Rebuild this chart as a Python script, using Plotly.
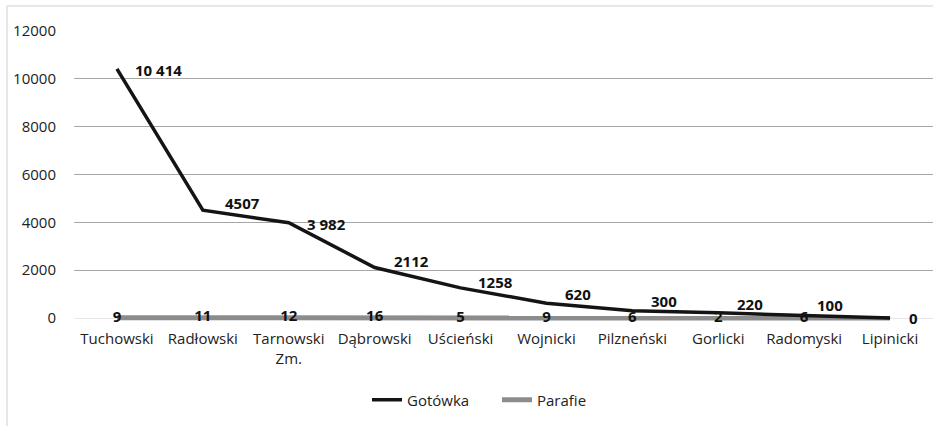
import plotly.graph_objects as go

categories = ["Tuchowski", "Radłowski", "Tarnowski<br>Zm.", "Dąbrowski", "Uścieński",
              "Wojnicki", "Pilzneński", "Gorlicki", "Radomyski", "Lipinicki"]
gotowka = [10414, 4507, 3982, 2112, 1258, 620, 300, 220, 100, 0]
gotowka_labels = ["10 414", "4507", "3 982", "2112", "1258", "620", "300", "220", "100", "0"]
parafie = [9, 11, 12, 16, 5, 9, 6, 2, 6, 0]
parafie_labels = ["9", "11", "12", "16", "5", "9", "6", "2", "6", ""]
y_ticks = [0, 2000, 4000, 6000, 8000, 10000, 12000]
y_tick_text = ["0", "2000", "4000", "6000", "8000", "10000", "12000"]

# label offsets (pixels) for the Gotówka value labels
lab_dx = [16, 20, 16, 17, 15, 17, 17, 17, 11, 17]
lab_dy = [-1, 7, -1, 6, 6, 9, 10, 9, 11, 0]

W, H = 939, 426
EXT = 5  # px of extra room below zero so thick lines at 0 are not clipped
L, R, T, B = 74, 6, 31, 108 - EXT
ymax = 12000
ppu = 287 / ymax
ymin = -EXT / ppu
FONT = "Open Sans"
FS = 15

fig = go.Figure()
fig.add_trace(go.Scatter(
    x=categories, y=parafie, name="Parafie", mode="lines+text",
    line=dict(color="#8c8c8c", width=5),
    text=parafie_labels, textposition="middle center",
    textfont=dict(family=FONT, size=FS, color="#111111", weight="bold"),
    cliponaxis=False,
))
fig.add_trace(go.Scatter(
    x=categories, y=gotowka, name="Gotówka", mode="lines",
    line=dict(color="#141414", width=3.5),
    cliponaxis=False,
))

annotations = []
for c, v, t, dx, dy in zip(categories, gotowka, gotowka_labels, lab_dx, lab_dy):
    annotations.append(dict(
        x=c, y=v, text=t, showarrow=False, xanchor="left", yanchor="middle",
        xshift=dx, yshift=dy,
        font=dict(family=FONT, size=FS, color="#111111", weight="bold"),
    ))

pw = W - L - R
ph = H - T - B
def px_x(x): return (x - L) / pw
def px_y(y): return 1 - (y - T) / ph

fig.update_layout(
    width=W, height=H,
    margin=dict(l=L, r=R, t=T, b=B, autoexpand=False),
    paper_bgcolor="white", plot_bgcolor="white",
    font=dict(family=FONT, size=FS, color="#222222"),
    showlegend=True,
    legend=dict(orientation="h", x=px_x(367), xanchor="left", y=px_y(400), yanchor="middle",
                traceorder="reversed", font=dict(size=FS), entrywidth=85),
    xaxis=dict(showgrid=False, showline=False, ticks="", tickfont=dict(size=FS),
               range=[-0.5, 9.5], ticklabelstandoff=10 - EXT, automargin=False),
    yaxis=dict(range=[ymin, ymax], tickvals=y_ticks, ticktext=y_tick_text, showgrid=True,
               gridcolor="#a6a6a6", gridwidth=1, zeroline=True, zerolinecolor="#e8e8e8",
               zerolinewidth=1, showline=False, ticks="", ticklabelstandoff=17,
               tickfont=dict(size=FS), automargin=False),
    annotations=annotations,
    shapes=[
        dict(type="line", xref="paper", yref="paper", x0=px_x(7), x1=px_x(933),
             y0=px_y(6), y1=px_y(6), line=dict(color="#d0d0d0", width=1)),
        dict(type="line", xref="paper", yref="paper", x0=px_x(7), x1=px_x(7),
             y0=px_y(6), y1=px_y(430), line=dict(color="#d0d0d0", width=1)),
    ],
)
fig.write_html("out.html", config={"displayModeBar": False},
               post_script="document.body.style.margin='0';")
